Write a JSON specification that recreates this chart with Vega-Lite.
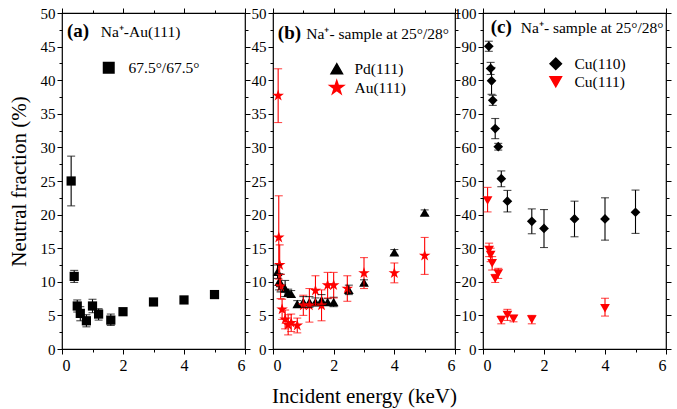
{
  "$schema": "https://vega.github.io/schema/vega-lite/v6.json",
  "padding": {"left": 7, "top": 5, "right": 5, "bottom": 5},
  "background": "white",
  "spacing": 28,
  "bounds": "flush",
  "config": {
    "font": "Liberation Serif",
    "view": {"stroke": "black", "strokeWidth": 1.2},
    "axis": {"grid": false, "domain": false, "tickColor": "black", "tickWidth": 1, "labelColor": "black", "labelFont": "Liberation Serif", "labelFontSize": 15, "titleFont": "Liberation Serif", "titleFontSize": 21, "titleFontWeight": "normal", "titleColor": "black", "tickSize": 5, "labelPadding": 2},
    "legend": {"labelFont": "Liberation Serif", "labelFontSize": 15.5, "labelColor": "black"},
    "text": {"font": "Liberation Serif", "color": "black"}
  },
  "datasets": {
    "pts": [
      {"panel": "a", "series": "67.5°/67.5°", "x": 0.3, "y": 25.0, "lo": 21.3, "hi": 28.7},
      {"panel": "a", "series": "67.5°/67.5°", "x": 0.4, "y": 10.8, "lo": 9.9, "hi": 11.7},
      {"panel": "a", "series": "67.5°/67.5°", "x": 0.5, "y": 6.4, "lo": 5.5, "hi": 7.3},
      {"panel": "a", "series": "67.5°/67.5°", "x": 0.6, "y": 5.3, "lo": 4.2, "hi": 6.3},
      {"panel": "a", "series": "67.5°/67.5°", "x": 0.8, "y": 4.2, "lo": 3.3, "hi": 5.1},
      {"panel": "a", "series": "67.5°/67.5°", "x": 1.0, "y": 6.4, "lo": 5.4, "hi": 7.4},
      {"panel": "a", "series": "67.5°/67.5°", "x": 1.2, "y": 5.2, "lo": 4.3, "hi": 6.0},
      {"panel": "a", "series": "67.5°/67.5°", "x": 1.6, "y": 4.3, "lo": 3.5, "hi": 5.2},
      {"panel": "a", "series": "67.5°/67.5°", "x": 2.0, "y": 5.55, "lo": 5.15, "hi": 5.95},
      {"panel": "a", "series": "67.5°/67.5°", "x": 3.0, "y": 7.0, "lo": 6.5, "hi": 7.5},
      {"panel": "a", "series": "67.5°/67.5°", "x": 4.0, "y": 7.3, "lo": 7.0, "hi": 7.6},
      {"panel": "a", "series": "67.5°/67.5°", "x": 5.0, "y": 8.1, "lo": 7.8, "hi": 8.4},

      {"panel": "b", "series": "Pd(111)", "x": 0.15, "y": 11.5, "lo": 10.5, "hi": 12.5},
      {"panel": "b", "series": "Pd(111)", "x": 0.2, "y": 10.0, "lo": 8.8, "hi": 11.2},
      {"panel": "b", "series": "Pd(111)", "x": 0.25, "y": 9.8, "lo": 8.5, "hi": 11.1},
      {"panel": "b", "series": "Pd(111)", "x": 0.4, "y": 9.0, "lo": 7.8, "hi": 10.2},
      {"panel": "b", "series": "Pd(111)", "x": 0.5, "y": 8.4, "lo": 7.9, "hi": 8.9},
      {"panel": "b", "series": "Pd(111)", "x": 0.6, "y": 8.2, "lo": 7.7, "hi": 8.7},
      {"panel": "b", "series": "Pd(111)", "x": 0.8, "y": 6.7, "lo": 6.2, "hi": 7.2},
      {"panel": "b", "series": "Pd(111)", "x": 1.0, "y": 7.0, "lo": 6.2, "hi": 7.8},
      {"panel": "b", "series": "Pd(111)", "x": 1.2, "y": 7.0, "lo": 6.2, "hi": 7.8},
      {"panel": "b", "series": "Pd(111)", "x": 1.4, "y": 7.0, "lo": 6.4, "hi": 7.6},
      {"panel": "b", "series": "Pd(111)", "x": 1.6, "y": 7.3, "lo": 6.5, "hi": 8.1},
      {"panel": "b", "series": "Pd(111)", "x": 1.8, "y": 7.0, "lo": 6.5, "hi": 7.5},
      {"panel": "b", "series": "Pd(111)", "x": 2.0, "y": 7.0, "lo": 6.3, "hi": 7.7},
      {"panel": "b", "series": "Pd(111)", "x": 2.5, "y": 8.8, "lo": 8.1, "hi": 9.5},
      {"panel": "b", "series": "Pd(111)", "x": 3.0, "y": 9.9, "lo": 9.5, "hi": 10.3},
      {"panel": "b", "series": "Pd(111)", "x": 4.0, "y": 14.4, "lo": 14.0, "hi": 14.8},
      {"panel": "b", "series": "Pd(111)", "x": 5.0, "y": 20.3, "lo": 19.9, "hi": 20.7},

      {"panel": "b", "series": "Au(111)", "x": 0.17, "y": 37.7, "lo": 33.7, "hi": 41.7},
      {"panel": "b", "series": "Au(111)", "x": 0.19, "y": 16.6, "lo": 10.4, "hi": 22.8},
      {"panel": "b", "series": "Au(111)", "x": 0.22, "y": 12.5, "lo": 9.5, "hi": 15.5},
      {"panel": "b", "series": "Au(111)", "x": 0.25, "y": 9.3, "lo": 7.5, "hi": 11.1},
      {"panel": "b", "series": "Au(111)", "x": 0.3, "y": 5.9, "lo": 4.4, "hi": 7.4},
      {"panel": "b", "series": "Au(111)", "x": 0.4, "y": 4.4, "lo": 3.0, "hi": 5.8},
      {"panel": "b", "series": "Au(111)", "x": 0.5, "y": 3.6, "lo": 2.1, "hi": 5.1},
      {"panel": "b", "series": "Au(111)", "x": 0.6, "y": 3.9, "lo": 2.6, "hi": 5.2},
      {"panel": "b", "series": "Au(111)", "x": 0.8, "y": 3.5, "lo": 2.4, "hi": 4.6},
      {"panel": "b", "series": "Au(111)", "x": 1.0, "y": 6.5, "lo": 5.0, "hi": 8.0},
      {"panel": "b", "series": "Au(111)", "x": 1.2, "y": 6.5, "lo": 4.0, "hi": 9.0},
      {"panel": "b", "series": "Au(111)", "x": 1.4, "y": 8.7, "lo": 6.5, "hi": 10.9},
      {"panel": "b", "series": "Au(111)", "x": 1.6, "y": 6.5, "lo": 4.2, "hi": 8.8},
      {"panel": "b", "series": "Au(111)", "x": 1.8, "y": 9.5, "lo": 7.6, "hi": 11.4},
      {"panel": "b", "series": "Au(111)", "x": 2.0, "y": 9.5, "lo": 7.6, "hi": 11.4},
      {"panel": "b", "series": "Au(111)", "x": 2.45, "y": 9.0, "lo": 7.1, "hi": 10.9},
      {"panel": "b", "series": "Au(111)", "x": 3.0, "y": 11.3, "lo": 9.0, "hi": 13.6},
      {"panel": "b", "series": "Au(111)", "x": 4.0, "y": 11.3, "lo": 9.85, "hi": 12.8},
      {"panel": "b", "series": "Au(111)", "x": 5.0, "y": 13.9, "lo": 11.1, "hi": 16.6},

      {"panel": "c", "series": "Cu(110)", "x": 0.19, "y": 90.1, "lo": 88.6, "hi": 91.6},
      {"panel": "c", "series": "Cu(110)", "x": 0.25, "y": 83.5, "lo": 81.7, "hi": 85.3},
      {"panel": "c", "series": "Cu(110)", "x": 0.28, "y": 79.8, "lo": 75.8, "hi": 83.8},
      {"panel": "c", "series": "Cu(110)", "x": 0.32, "y": 74.0, "lo": 72.5, "hi": 75.5},
      {"panel": "c", "series": "Cu(110)", "x": 0.4, "y": 65.6, "lo": 62.6, "hi": 68.6},
      {"panel": "c", "series": "Cu(110)", "x": 0.5, "y": 60.2, "lo": 59.2, "hi": 61.2},
      {"panel": "c", "series": "Cu(110)", "x": 0.6, "y": 50.7, "lo": 48.3, "hi": 53.0},
      {"panel": "c", "series": "Cu(110)", "x": 0.8, "y": 44.0, "lo": 40.8, "hi": 47.2},
      {"panel": "c", "series": "Cu(110)", "x": 1.6, "y": 38.0, "lo": 34.3, "hi": 41.7},
      {"panel": "c", "series": "Cu(110)", "x": 2.0, "y": 35.9, "lo": 30.2, "hi": 41.5},
      {"panel": "c", "series": "Cu(110)", "x": 3.0, "y": 38.7, "lo": 33.4, "hi": 44.0},
      {"panel": "c", "series": "Cu(110)", "x": 4.0, "y": 38.7, "lo": 32.4, "hi": 45.0},
      {"panel": "c", "series": "Cu(110)", "x": 5.0, "y": 40.7, "lo": 34.4, "hi": 47.3},

      {"panel": "c", "series": "Cu(111)", "x": 0.15, "y": 44.2, "lo": 40.8, "hi": 48.1},
      {"panel": "c", "series": "Cu(111)", "x": 0.2, "y": 29.5, "lo": 27.5, "hi": 31.5},
      {"panel": "c", "series": "Cu(111)", "x": 0.25, "y": 28.0, "lo": 26.0, "hi": 30.0},
      {"panel": "c", "series": "Cu(111)", "x": 0.3, "y": 25.5, "lo": 23.5, "hi": 27.5},
      {"panel": "c", "series": "Cu(111)", "x": 0.4, "y": 21.0, "lo": 19.8, "hi": 22.2},
      {"panel": "c", "series": "Cu(111)", "x": 0.5, "y": 22.5, "lo": 21.0, "hi": 24.0},
      {"panel": "c", "series": "Cu(111)", "x": 0.6, "y": 8.6, "lo": 7.5, "hi": 9.8},
      {"panel": "c", "series": "Cu(111)", "x": 0.8, "y": 10.1, "lo": 8.5, "hi": 11.8},
      {"panel": "c", "series": "Cu(111)", "x": 1.0, "y": 9.0, "lo": 8.1, "hi": 10.0},
      {"panel": "c", "series": "Cu(111)", "x": 1.6, "y": 8.8, "lo": 7.5, "hi": 10.0},
      {"panel": "c", "series": "Cu(111)", "x": 4.0, "y": 12.1, "lo": 9.8, "hi": 15.1}
    ]
  },
  "resolve": {"scale": {"color": "independent", "shape": "independent", "stroke": "independent", "fill": "independent", "x": "independent", "y": "independent"}, "legend": {"color": "independent", "shape": "independent"}},
  "hconcat": [
    {
      "width": 183, "height": 336,
      "resolve": {"axis": {"x": "independent", "y": "independent"}},
      "layer": [
        {
          "data": {"name": "pts"}, "transform": [{"filter": "datum.panel === 'a'"}],
          "mark": {"type": "point", "filled": true, "opacity": 1, "size": 85},
          "encoding": {
            "x": {"field": "x", "type": "quantitative", "scale": {"domain": [0, 6], "nice": false}, "axis": {"orient": "top", "values": [1, 3, 5], "labels": false, "tickSize": 3, "title": null}},
            "y": {"field": "y", "type": "quantitative", "scale": {"domain": [0, 50], "nice": false}, "axis": {"orient": "right", "values": [2.5, 7.5, 12.5, 17.5, 22.5, 27.5, 32.5, 37.5, 42.5, 47.5], "labels": false, "tickSize": 3, "title": null}},
            "color": {"field": "series", "type": "nominal", "scale": {"domain": ["67.5°/67.5°"], "range": ["#000000"]}, "legend": {"orient": "none", "legendX": 39, "legendY": 47, "title": null, "symbolSize": 110, "labelOffset": 12, "padding": 0}},
            "shape": {"field": "series", "type": "nominal", "scale": {"domain": ["67.5°/67.5°"], "range": ["square"]}, "legend": {"orient": "none", "legendX": 39, "legendY": 47, "title": null, "symbolSize": 110, "labelOffset": 12, "padding": 0}}
          }
        },
        {
          "data": {"name": "pts"}, "transform": [{"filter": "datum.panel === 'a'"}],
          "mark": {"type": "rule", "strokeWidth": 1.1},
          "encoding": {
            "x": {"field": "x", "type": "quantitative", "axis": {"orient": "bottom", "values": [0, 2, 4, 6], "title": null, "labelFontSize": 16, "labelPadding": 3}},
            "y": {"field": "lo", "type": "quantitative", "axis": {"orient": "left", "values": [0, 5, 10, 15, 20, 25, 30, 35, 40, 45, 50], "title": "Neutral fraction (%)", "titlePadding": 11}},
            "y2": {"field": "hi"},
            "stroke": {"field": "series", "type": "nominal", "scale": {"domain": ["67.5°/67.5°"], "range": ["#000000"]}, "legend": null}
          }
        },
        {
          "data": {"name": "pts"}, "transform": [{"filter": "datum.panel === 'a'"}],
          "mark": {"type": "tick", "orient": "horizontal", "size": 8, "thickness": 1.1},
          "encoding": {
            "x": {"field": "x", "type": "quantitative", "axis": {"orient": "bottom", "values": [1, 3, 5], "labels": false, "tickSize": 3, "title": null}},
            "y": {"field": "hi", "type": "quantitative", "axis": {"orient": "left", "values": [2.5, 7.5, 12.5, 17.5, 22.5, 27.5, 32.5, 37.5, 42.5, 47.5], "labels": false, "tickSize": 3, "title": null}},
            "fill": {"field": "series", "type": "nominal", "scale": {"domain": ["67.5°/67.5°"], "range": ["#000000"]}, "legend": null}
          }
        },
        {
          "data": {"name": "pts"}, "transform": [{"filter": "datum.panel === 'a'"}],
          "mark": {"type": "tick", "orient": "horizontal", "size": 8, "thickness": 1.1},
          "encoding": {
            "x": {"field": "x", "type": "quantitative", "axis": {"orient": "top", "values": [0, 2, 4, 6], "labels": false, "title": null}},
            "y": {"field": "lo", "type": "quantitative", "axis": {"orient": "right", "values": [0, 5, 10, 15, 20, 25, 30, 35, 40, 45, 50], "labels": false, "title": null}},
            "fill": {"field": "series", "type": "nominal", "legend": null}
          }
        },
        {
          "data": {"values": [{}]},
          "mark": {"type": "text", "text": "(a)", "fontWeight": "bold", "fontSize": 19, "align": "left", "baseline": "alphabetic"},
          "encoding": {"x": {"datum": 0.16, "type": "quantitative", "axis": null}, "y": {"datum": 46.4, "type": "quantitative", "axis": null}}
        },
        {
          "data": {"values": [{}]},
          "mark": {"type": "text", "text": "Na⁺-Au(111)", "fontSize": 15.5, "align": "left", "baseline": "alphabetic"},
          "encoding": {"x": {"datum": 1.27, "type": "quantitative", "axis": null}, "y": {"datum": 46.4, "type": "quantitative", "axis": null}}
        }
      ]
    },
    {
      "width": 182, "height": 336,
      "resolve": {"axis": {"x": "independent", "y": "independent"}},
      "layer": [
        {
          "data": {"name": "pts"}, "transform": [{"filter": "datum.panel === 'b'"}],
          "mark": {"type": "point", "filled": true, "opacity": 1, "size": 95},
          "encoding": {
            "x": {"field": "x", "type": "quantitative", "scale": {"domain": [0, 6], "nice": false}, "axis": {"orient": "top", "values": [1, 3, 5], "labels": false, "tickSize": 3, "title": null}},
            "y": {"field": "y", "type": "quantitative", "scale": {"domain": [0, 50], "nice": false}, "axis": {"orient": "right", "values": [2.5, 7.5, 12.5, 17.5, 22.5, 27.5, 32.5, 37.5, 42.5, 47.5], "labels": false, "tickSize": 3, "title": null}},
            "color": {"field": "series", "type": "nominal", "scale": {"domain": ["Pd(111)", "Au(111)"], "range": ["#000000", "#ff0000"]}, "legend": {"orient": "none", "legendX": 56, "legendY": 48, "title": null, "symbolSize": 130, "labelOffset": 10, "padding": 0, "rowPadding": -1}},
            "shape": {"field": "series", "type": "nominal", "scale": {"domain": ["Pd(111)", "Au(111)"], "range": ["triangle-up", "M0,-1.25L0.2806,-0.3863L1.1889,-0.3863L0.4541,0.1475L0.7348,1.0113L0,0.4775L-0.7348,1.0113L-0.4541,0.1475L-1.1889,-0.3863L-0.2806,-0.3863Z"]}, "legend": {"orient": "none", "legendX": 56, "legendY": 48, "title": null, "symbolSize": 130, "labelOffset": 10, "padding": 0, "rowPadding": -1}}
          }
        },
        {
          "data": {"name": "pts"}, "transform": [{"filter": "datum.panel === 'b'"}],
          "mark": {"type": "rule", "strokeWidth": 1.1},
          "encoding": {
            "x": {"field": "x", "type": "quantitative", "axis": {"orient": "bottom", "values": [0, 2, 4, 6], "title": "Incident energy (keV)", "labelFontSize": 16, "labelPadding": 3, "titlePadding": 12}},
            "y": {"field": "lo", "type": "quantitative", "axis": {"orient": "left", "values": [0, 5, 10, 15, 20, 25, 30, 35, 40, 45, 50], "title": null}},
            "y2": {"field": "hi"},
            "stroke": {"field": "series", "type": "nominal", "scale": {"domain": ["Pd(111)", "Au(111)"], "range": ["#000000", "#ff0000"]}, "legend": null}
          }
        },
        {
          "data": {"name": "pts"}, "transform": [{"filter": "datum.panel === 'b'"}],
          "mark": {"type": "tick", "orient": "horizontal", "size": 8, "thickness": 1.1},
          "encoding": {
            "x": {"field": "x", "type": "quantitative", "axis": {"orient": "bottom", "values": [1, 3, 5], "labels": false, "tickSize": 3, "title": null}},
            "y": {"field": "hi", "type": "quantitative", "axis": {"orient": "left", "values": [2.5, 7.5, 12.5, 17.5, 22.5, 27.5, 32.5, 37.5, 42.5, 47.5], "labels": false, "tickSize": 3, "title": null}},
            "fill": {"field": "series", "type": "nominal", "scale": {"domain": ["Pd(111)", "Au(111)"], "range": ["#000000", "#ff0000"]}, "legend": null}
          }
        },
        {
          "data": {"name": "pts"}, "transform": [{"filter": "datum.panel === 'b'"}],
          "mark": {"type": "tick", "orient": "horizontal", "size": 8, "thickness": 1.1},
          "encoding": {
            "x": {"field": "x", "type": "quantitative", "axis": {"orient": "top", "values": [0, 2, 4, 6], "labels": false, "title": null}},
            "y": {"field": "lo", "type": "quantitative", "axis": {"orient": "right", "values": [0, 5, 10, 15, 20, 25, 30, 35, 40, 45, 50], "labels": false, "title": null}},
            "fill": {"field": "series", "type": "nominal", "legend": null}
          }
        },
        {
          "data": {"values": [{}]},
          "mark": {"type": "text", "text": "(b)", "fontWeight": "bold", "fontSize": 19, "align": "left", "baseline": "alphabetic"},
          "encoding": {"x": {"datum": 0.16, "type": "quantitative", "axis": null}, "y": {"datum": 46.1, "type": "quantitative", "axis": null}}
        },
        {
          "data": {"values": [{}]},
          "mark": {"type": "text", "text": "Na⁺- sample at 25°/28°", "fontSize": 15.5, "align": "left", "baseline": "alphabetic"},
          "encoding": {"x": {"datum": 1.1, "type": "quantitative", "axis": null}, "y": {"datum": 46.1, "type": "quantitative", "axis": null}}
        }
      ]
    },
    {
      "width": 183, "height": 336,
      "resolve": {"axis": {"x": "independent", "y": "independent"}},
      "layer": [
        {
          "data": {"name": "pts"}, "transform": [{"filter": "datum.panel === 'c'"}],
          "mark": {"type": "point", "filled": true, "opacity": 1, "size": 95},
          "encoding": {
            "x": {"field": "x", "type": "quantitative", "scale": {"domain": [0, 6], "nice": false}, "axis": {"orient": "top", "values": [1, 3, 5], "labels": false, "tickSize": 3, "title": null}},
            "y": {"field": "y", "type": "quantitative", "scale": {"domain": [0, 100], "nice": false}, "axis": {"orient": "right", "values": [5, 15, 25, 35, 45, 55, 65, 75, 85, 95], "labels": false, "tickSize": 3, "title": null}},
            "color": {"field": "series", "type": "nominal", "scale": {"domain": ["Cu(110)", "Cu(111)"], "range": ["#000000", "#ff0000"]}, "legend": {"orient": "none", "legendX": 65, "legendY": 43, "title": null, "symbolSize": 130, "labelOffset": 11, "padding": 0, "rowPadding": 0}},
            "shape": {"field": "series", "type": "nominal", "scale": {"domain": ["Cu(110)", "Cu(111)"], "range": ["diamond", "triangle-down"]}, "legend": {"orient": "none", "legendX": 65, "legendY": 43, "title": null, "symbolSize": 130, "labelOffset": 11, "padding": 0, "rowPadding": 0}}
          }
        },
        {
          "data": {"name": "pts"}, "transform": [{"filter": "datum.panel === 'c'"}],
          "mark": {"type": "rule", "strokeWidth": 1.1},
          "encoding": {
            "x": {"field": "x", "type": "quantitative", "axis": {"orient": "bottom", "values": [0, 2, 4, 6], "title": null, "labelFontSize": 16, "labelPadding": 3}},
            "y": {"field": "lo", "type": "quantitative", "axis": {"orient": "left", "values": [0, 10, 20, 30, 40, 50, 60, 70, 80, 90, 100], "title": null}},
            "y2": {"field": "hi"},
            "stroke": {"field": "series", "type": "nominal", "scale": {"domain": ["Cu(110)", "Cu(111)"], "range": ["#000000", "#ff0000"]}, "legend": null}
          }
        },
        {
          "data": {"name": "pts"}, "transform": [{"filter": "datum.panel === 'c'"}],
          "mark": {"type": "tick", "orient": "horizontal", "size": 8, "thickness": 1.1},
          "encoding": {
            "x": {"field": "x", "type": "quantitative", "axis": {"orient": "bottom", "values": [1, 3, 5], "labels": false, "tickSize": 3, "title": null}},
            "y": {"field": "hi", "type": "quantitative", "axis": {"orient": "left", "values": [5, 15, 25, 35, 45, 55, 65, 75, 85, 95], "labels": false, "tickSize": 3, "title": null}},
            "fill": {"field": "series", "type": "nominal", "scale": {"domain": ["Cu(110)", "Cu(111)"], "range": ["#000000", "#ff0000"]}, "legend": null}
          }
        },
        {
          "data": {"name": "pts"}, "transform": [{"filter": "datum.panel === 'c'"}],
          "mark": {"type": "tick", "orient": "horizontal", "size": 8, "thickness": 1.1},
          "encoding": {
            "x": {"field": "x", "type": "quantitative", "axis": {"orient": "top", "values": [0, 2, 4, 6], "labels": false, "title": null}},
            "y": {"field": "lo", "type": "quantitative", "axis": {"orient": "right", "values": [0, 10, 20, 30, 40, 50, 60, 70, 80, 90, 100], "labels": false, "title": null}},
            "fill": {"field": "series", "type": "nominal", "legend": null}
          }
        },
        {
          "data": {"values": [{}]},
          "mark": {"type": "text", "text": "(c)", "fontWeight": "bold", "fontSize": 19, "align": "left", "baseline": "alphabetic"},
          "encoding": {"x": {"datum": 0.25, "type": "quantitative", "axis": null}, "y": {"datum": 94, "type": "quantitative", "axis": null}}
        },
        {
          "data": {"values": [{}]},
          "mark": {"type": "text", "text": "Na⁺- sample at 25°/28°", "fontSize": 15.5, "align": "left", "baseline": "alphabetic"},
          "encoding": {"x": {"datum": 1.24, "type": "quantitative", "axis": null}, "y": {"datum": 94, "type": "quantitative", "axis": null}}
        }
      ]
    }
  ]
}
